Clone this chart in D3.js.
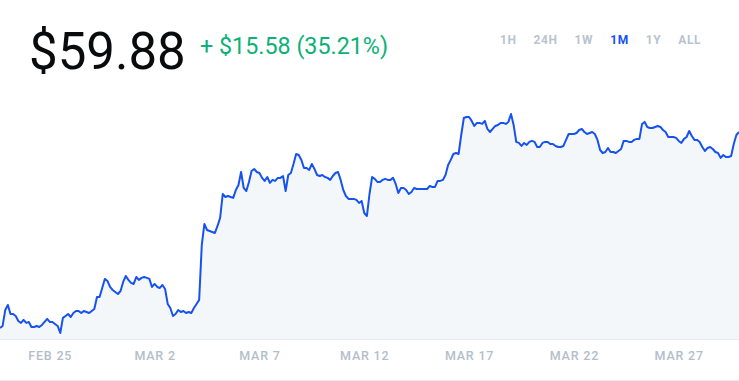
<!DOCTYPE html>
<html>
<head>
<meta charset="utf-8">
<script src="https://cdn.jsdelivr.net/npm/d3@7"></script>
<style>
  html, body { margin: 0; padding: 0; background: #fff; }
  svg { display: block; font-family: Roboto, "Noto Sans", sans-serif; }
</style>
</head>
<body>
<div id="chart"></div>
<script>
// price history, one sample every 3 hours (1M view)
const startTime = new Date(Date.UTC(2021, 1, 22, 15));
const stepHours = 3;
const prices = [
  44.30, 44.46, 45.73, 46.13, 45.41, 45.41, 45.25, 44.86, 44.70, 44.94,
  44.70, 44.78, 44.38, 44.38, 44.46, 44.38, 44.54, 44.78, 45.02, 44.78,
  44.78, 44.62, 44.46, 43.90, 45.10, 45.25, 45.41, 45.17, 45.49, 45.65,
  45.65, 45.49, 45.65, 45.57, 45.49, 45.65, 45.81, 46.76, 46.76, 47.48,
  48.20, 48.04, 47.56, 47.32, 47.16, 47.00, 47.24, 47.96, 48.43, 48.12,
  47.88, 47.80, 48.35, 48.12, 48.28, 48.35, 48.28, 48.20, 47.56, 47.80,
  47.56, 47.48, 47.72, 47.40, 46.21, 45.89, 45.25, 45.41, 45.73, 45.57,
  45.65, 45.49, 45.57, 45.49, 45.89, 46.21, 46.53, 50.90, 52.57, 52.09,
  52.01, 51.93, 51.85, 52.41, 53.05, 54.95, 54.71, 54.79, 54.71, 54.64,
  55.27, 55.67, 56.70, 55.43, 55.19, 55.91, 56.78, 56.94, 56.70, 56.62,
  56.23, 55.99, 56.30, 55.83, 56.07, 55.99, 56.23, 56.23, 56.38, 55.19,
  56.46, 56.62, 57.34, 58.13, 58.05, 57.66, 57.02, 57.02, 56.86, 57.34,
  56.94, 56.46, 56.38, 56.46, 56.30, 56.23, 56.07, 56.38, 56.62, 56.70,
  56.07, 55.27, 54.79, 54.56, 54.56, 54.56, 54.48, 54.24, 54.40, 53.44,
  53.20, 54.95, 56.30, 56.15, 55.91, 55.91, 56.07, 56.15, 56.07, 56.07,
  56.23, 55.75, 55.03, 55.43, 55.43, 55.27, 54.95, 55.11, 55.43, 55.35,
  55.35, 55.35, 55.35, 55.35, 55.59, 55.51, 55.51, 55.99, 55.99, 56.07,
  56.46, 57.26, 57.66, 58.13, 58.21, 58.13, 59.64, 60.99, 61.07, 61.07,
  60.76, 60.36, 60.60, 60.60, 60.52, 60.76, 60.12, 59.88, 60.12, 60.36,
  60.44, 60.60, 60.60, 60.52, 60.68, 61.31, 60.44, 59.09, 59.01, 58.77,
  59.01, 58.85, 59.09, 59.17, 59.09, 58.69, 58.69, 59.01, 59.09, 59.09,
  58.93, 58.93, 58.77, 58.69, 58.69, 58.77, 59.25, 59.72, 59.72, 59.72,
  59.80, 60.04, 60.12, 59.88, 59.72, 59.80, 59.88, 59.72, 59.25, 58.45,
  58.21, 58.29, 58.61, 58.29, 58.29, 58.21, 58.37, 58.53, 59.17, 59.17,
  59.09, 59.09, 59.25, 59.33, 59.33, 60.52, 60.68, 60.28, 60.20, 60.20,
  60.28, 60.36, 60.28, 60.04, 59.88, 59.48, 59.48, 59.48, 59.41, 59.17,
  59.01, 59.33, 59.48, 59.96, 59.56, 59.25, 59.25, 59.09, 58.69, 58.37,
  58.61, 58.69, 58.53, 58.29, 58.21, 57.82, 58.05, 57.89, 57.89, 57.97,
  58.93, 59.64, 59.88
];

const tickDates = [
  new Date(Date.UTC(2021, 1, 25)), new Date(Date.UTC(2021, 2, 2)),
  new Date(Date.UTC(2021, 2, 7)), new Date(Date.UTC(2021, 2, 12)),
  new Date(Date.UTC(2021, 2, 17)), new Date(Date.UTC(2021, 2, 22)),
  new Date(Date.UTC(2021, 2, 27))
];
const rangeButtons = ['1H', '24H', '1W', '1M', '1Y', 'ALL'];
const activeRange = '1M';

const currentPrice = '$59.88';
const changeText = '+ $15.58 (35.21%)';

const width = 739, height = 381;
const plotBottom = 339;

const data = prices.map((p, i) => ({ date: d3.utcHour.offset(startTime, i * stepHours), price: p }));

const svg = d3.select('#chart').append('svg')
  .attr('width', width)
  .attr('height', height);

const x = d3.scaleUtc()
  .domain(d3.extent(data, d => d.date))
  .range([0, width]);

const y = d3.scaleLinear()
  .domain(d3.extent(prices))
  .range([333, 114]);

// header
svg.append('text')
  .attr('x', 29).attr('y', 69)
  .attr('font-size', 51).attr('font-weight', 400)
  .attr('fill', '#0a0b0d')
  .text(currentPrice);

svg.append('text')
  .attr('x', 200).attr('y', 54)
  .attr('font-size', 23.3).attr('font-weight', 400)
  .attr('fill', '#0db177')
  .text(changeText);

// range selector
let bx = 500;
rangeButtons.forEach(label => {
  const t = svg.append('text')
    .attr('x', bx).attr('y', 43.5)
    .attr('font-size', 12).attr('font-weight', 700)
    .attr('letter-spacing', 0.6)
    .attr('fill', label === activeRange ? '#1652f0' : '#b9c3cf')
    .text(label);
  bx += t.node().getComputedTextLength() + 17;
});

// area + line
const area = d3.area()
  .x(d => x(d.date))
  .y0(plotBottom)
  .y1(d => y(d.price));

const line = d3.line()
  .x(d => x(d.date))
  .y(d => y(d.price));

svg.append('path')
  .datum(data)
  .attr('d', area)
  .attr('fill', '#f4f7fa');

svg.append('path')
  .datum(data)
  .attr('d', line)
  .attr('fill', 'none')
  .attr('stroke', '#1652f0')
  .attr('stroke-width', 2)
  .attr('stroke-linejoin', 'round');

svg.append('line')
  .attr('x1', 0).attr('x2', width)
  .attr('y1', plotBottom + 0.5).attr('y2', plotBottom + 0.5)
  .attr('stroke', '#e6eaef');

// x axis
const fmt = d => d3.utcFormat('%b')(d).toUpperCase() + ' ' + d.getUTCDate();
const xAxis = svg.append('g')
  .attr('transform', `translate(0,${plotBottom})`)
  .call(d3.axisBottom(x).tickValues(tickDates).tickFormat(fmt).tickSize(0).tickPadding(12));
xAxis.select('.domain').remove();
xAxis.selectAll('text')
  .attr('font-family', 'Roboto, sans-serif')
  .attr('font-size', 12.5)
  .attr('font-weight', 500)
  .attr('letter-spacing', 0.8)
  .attr('fill', '#b3becb');

svg.append('line')
  .attr('x1', 0).attr('x2', width)
  .attr('y1', 380.5).attr('y2', 380.5)
  .attr('stroke', '#e9ecf0');
</script>
</body>
</html>
